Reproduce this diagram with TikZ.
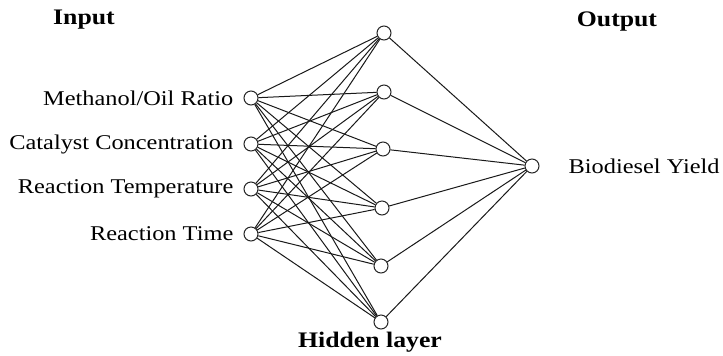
\documentclass[tikz,border=0pt]{standalone}
\usepackage{fontspec}
\setmainfont{Liberation Serif}[FakeStretch=1.16]
\begin{document}
\begin{tikzpicture}[x=1bp,y=-1bp,
  neuron/.style={circle,draw=black!85,line width=1bp,fill=white,minimum size=14bp,inner sep=0pt},
  lbl/.style={font=\fontsize{21bp}{24bp}\selectfont,inner sep=0pt,text=black},
  hdr/.style={font=\fontsize{22.2bp}{25bp}\selectfont\bfseries,inner sep=0pt,text=black},
  edge/.style={draw=black!90,line width=1bp}]
\useasboundingbox (0,0) rectangle (723,355);
% input nodes
\node[neuron] (i1) at (251,98) {};
\node[neuron] (i2) at (251,144) {};
\node[neuron] (i3) at (251,189) {};
\node[neuron] (i4) at (251,234) {};
% hidden nodes
\node[neuron] (h1) at (384,33) {};
\node[neuron] (h2) at (384,92) {};
\node[neuron] (h3) at (383,149) {};
\node[neuron] (h4) at (382,208) {};
\node[neuron] (h5) at (381,266) {};
\node[neuron] (h6) at (381,322) {};
% output node
\node[neuron] (o1) at (532,166) {};
% connectors
\foreach \i in {1,...,4}{
  \foreach \h in {1,...,6}{
    \draw[edge] (i\i) -- (h\h);
  }
}
\foreach \h in {1,...,6}{
  \draw[edge] (h\h) -- (o1);
}
% labels
\node[lbl,anchor=east] (l1) at ([xshift=-10bp]i1.west) {Methanol/Oil Ratio};
\node[lbl,anchor=east] (l2) at ([xshift=-10bp]i2.west) {Catalyst Concentration};
\node[lbl,anchor=east] (l3) at ([xshift=-10bp]i3.west) {Reaction Temperature};
\node[lbl,anchor=east] (l4) at ([xshift=-10bp]i4.west) {Reaction Time};
\node[lbl,anchor=west] (lo) at ([xshift=29bp]o1.east) {Biodiesel Yield};
\node[hdr] (tin) at (84,20) {Input};
\node[hdr] (tout) at (617,22) {Output};
\node[hdr] (thid) at (370,342) {Hidden layer};
\end{tikzpicture}
\end{document}
